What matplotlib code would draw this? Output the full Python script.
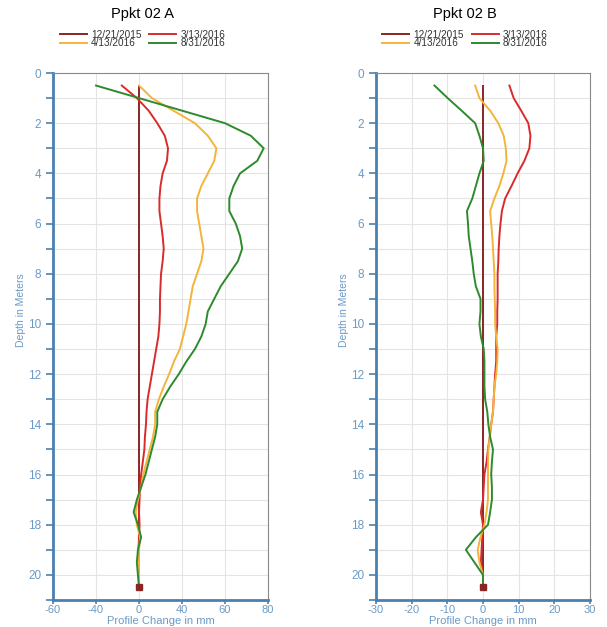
import numpy as np
import matplotlib
matplotlib.use('Agg')
import matplotlib.pyplot as plt
from matplotlib.ticker import MultipleLocator

plt.rcParams['font.family'] = ['Liberation Sans', 'DejaVu Sans']

# depth of each reading in meters
depth = [0.5, 1, 1.5, 2, 2.5, 3, 3.5, 4, 4.5, 5, 5.5, 6, 6.5, 7, 7.5, 8, 8.5, 9, 9.5, 10,
         10.5, 11, 11.5, 12, 12.5, 13, 13.5, 14, 14.5, 15, 15.5, 16, 16.5, 17, 17.5, 18,
         18.5, 19, 19.5, 20, 20.5]

dates = ['12/21/2015', '3/13/2016', '4/13/2016', '8/31/2016']

# Ppkt 02 A, profile change in mm
a_1221 = [0] * 41
a_0313 = [-16, -2, 9, 17, 24, 27, 26, 22, 20, 19, 19, 20.5, 22, 23, 22, 20.5, 20, 19.5, 19.5, 19,
          18, 16, 14, 12, 10, 8, 7, 6.5, 5.5, 5, 3.5, 2, 1, 0.5, 0, 0.5, 0, -0.5, 0, 0, 0]
a_0413 = [0, 12, 32, 46, 52, 56, 55, 52, 49, 47, 47, 48, 49, 50, 49, 47, 45, 44, 43, 42,
          40.5, 38, 32.5, 28, 23, 18.5, 15, 15, 13, 10, 7, 4, 2, -1, -3, -2, 1, 0, 0, 0, 0]
a_0831 = [-40, 0, 40, 60, 72, 78, 75, 67, 64, 62, 62, 65, 67, 68, 66, 62, 58, 55, 52, 51,
          49, 46, 42, 37, 29, 22, 17, 17, 15, 12, 9, 6, 2, -2, -5, -1, 2, -1, -2, -1, 0]

# Ppkt 02 B, profile change in mm
b_1221 = [0] * 41
b_0313 = [7.4, 8.6, 10.7, 12.7, 13.3, 13, 11.6, 9.7, 8, 6.2, 5.3, 4.9, 4.6, 4.4, 4.3, 4.1, 4.1, 4.1,
          4, 4, 3.7, 3.7, 3.7, 3.4, 3.2, 3, 2.8, 2.3, 1.9, 1.4, 1, 0.4, 0.2, 0, -0.6, 0, -0.2, -0.4,
          -0.6, 0, 0]
b_0413 = [-2.2, -1, 2, 4.3, 5.8, 6.4, 6.6, 5.7, 4.6, 3.2, 2, 2.3, 2.6, 2.8, 3, 3.2, 3.2, 3.3, 3.4,
          3.4, 3.7, 4.1, 4, 3.7, 3.2, 3, 2.8, 2.3, 1.9, 1.5, 1.4, 1.4, 1.4, 1.4, 1, 0.4, -0.7, -1.5,
          -1, 0, 0]
b_0831 = [-13.6, -9.9, -6, -2.2, -1, 0, 0.2, -1, -2, -3, -4.5, -4.2, -4, -3.5, -3, -2.6, -2, -0.7,
          -0.7, -1, -0.6, 0.2, 0.4, 0.4, 0.4, 0.6, 1.2, 1.5, 2, 2.8, 2.5, 2.3, 2.5, 2.5, 2, 1.4, -2,
          -4.8, -2.4, 0, 0]

a_ticks = [-60, -40, 0, 40, 60, 80]
b_ticks = [-30, -20, -10, 0, 10, 20, 30]

colors = ['#8b2525', '#d92b2b', '#f4b43a', '#2d8a2d']
axis_blue = '#4a80b0'
label_blue = '#6a9ac6'

fig = plt.figure(figsize=(6.07, 6.27), dpi=100)
ax1 = fig.add_axes([53 / 607, 1 - 600 / 627, 215 / 607, 527 / 627])
ax2 = fig.add_axes([376 / 607, 1 - 600 / 627, 214 / 607, 527 / 627])

# left chart places its labelled ticks evenly apart
pos = np.arange(len(a_ticks))
ax1.set_xscale('function', functions=(lambda x: np.interp(x, a_ticks, pos),
                                      lambda p: np.interp(p, pos, a_ticks)))

panels = [(ax1, [a_1221, a_0313, a_0413, a_0831], a_ticks, 'Ppkt 02 A'),
          (ax2, [b_1221, b_0313, b_0413, b_0831], b_ticks, 'Ppkt 02 B')]

for ax, series, ticks, title in panels:
    lines = []
    for s, c, lab in zip(series, colors, dates):
        ln, = ax.plot(s, depth, color=c, lw=1.4, label=lab, zorder=3)
        lines.append(ln)
    ax.plot(series[0][-1], depth[-1], 's', color=colors[0], ms=4.5, zorder=4)

    ax.set_xlim(ticks[0], ticks[-1])
    ax.set_ylim(21, 0)
    ax.set_xticks(ticks)
    ax.set_xticklabels([str(t) for t in ticks])
    ax.yaxis.set_major_locator(MultipleLocator(2))
    ax.yaxis.set_minor_locator(MultipleLocator(1))
    ax.grid(True, which='both', color='#e4e4e4', lw=0.8, zorder=0)
    ax.set_axisbelow(True)

    for side in ['left', 'bottom']:
        ax.spines[side].set_color(axis_blue)
        ax.spines[side].set_linewidth(2)
    for side in ['top', 'right']:
        ax.spines[side].set_color('#8a8a8a')
        ax.spines[side].set_linewidth(0.8)

    ax.tick_params(which='both', colors=axis_blue, labelcolor=label_blue, labelsize=8.5,
                   width=1.2, length=5)
    ax.tick_params(axis='x', length=3, pad=0.5, labelsize=8)

    ax.set_xlabel('Profile Change in mm', color=label_blue, fontsize=8)
    ax.xaxis.set_label_coords(0.5, -0.031)
    ax.xaxis.label.set_va('top')
    ax.set_ylabel('Depth in Meters', color=label_blue, fontsize=7.5)
    ax.yaxis.set_label_coords(-0.125, 0.55)

    # title and legend are centred over the plot including its axis label
    box = ax.get_position()
    cx = box.x0 + box.width / 2 - 18 / 607
    fig.text(cx, 1 - 14 / 627, title, ha='center', va='center', fontsize=10.5)
    order = [0, 2, 1, 3]  # fill legend row by row
    leg = fig.legend([lines[i] for i in order], [dates[i] for i in order], loc='center', ncol=2,
                     bbox_to_anchor=(cx, 1 - 39 / 627), frameon=False, fontsize=7.2,
                     handlelength=2.7, handletextpad=0.4, columnspacing=0.8,
                     labelspacing=-0.1, borderpad=0)
    for t in leg.get_texts():
        t.set_color('#333333')

fig.savefig('out.png', dpi=100)
